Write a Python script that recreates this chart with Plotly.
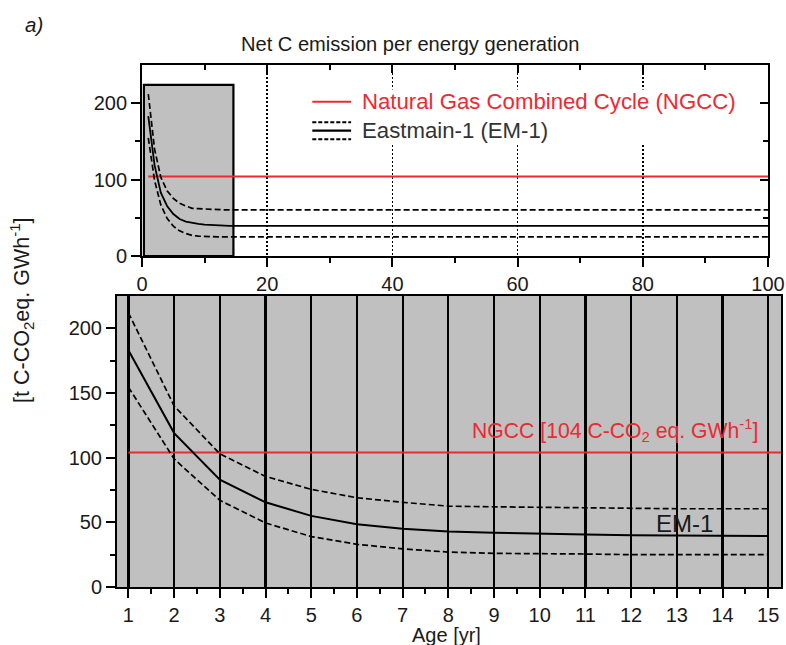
import plotly.graph_objects as go

# ---------------- data ----------------
age = [1, 2, 3, 4, 5, 6, 7, 8, 9, 10, 11, 12, 13, 14, 15]
em1_mean = [183, 119, 83, 65.5, 55, 48.5, 45, 43, 42, 41, 40.5, 40, 40, 39.5, 39.5]
em1_upper = [212, 140, 103, 85.5, 75.5, 69, 65.5, 62.5, 62, 61.5, 61, 60.5, 60.5, 60.5, 60.5]
em1_lower = [154.5, 99, 67, 49.5, 39, 33, 29.5, 27, 26, 26, 25.5, 25, 25, 25, 25]
# long-term horizon (top panel): plateau values held until year 100
horizon_age = 100
em1_mean_plateau = 39.5
em1_upper_plateau = 60.5
em1_lower_plateau = 25
ngcc_value = 104
ngcc_age = [1, 100]

top_xticks = [0, 20, 40, 60, 80, 100]
top_yticks = [0, 100, 200]
bottom_yticks = [0, 50, 100, 150, 200]

# ---------------- style ----------------
FONT = "Liberation Sans"
RED = "#ec2a32"
GRAY = "#c0c0c0"
DASH = "6px,3px"

fig = go.Figure()

age_long = age + [horizon_age]
mean_long = em1_mean + [em1_mean_plateau]
upper_long = em1_upper + [em1_upper_plateau]
lower_long = em1_lower + [em1_lower_plateau]

# top panel traces
fig.add_trace(go.Scatter(x=ngcc_age, y=[ngcc_value] * 2, mode="lines",
                         line=dict(color=RED, width=2), xaxis="x", yaxis="y"))
fig.add_trace(go.Scatter(x=age_long, y=upper_long, mode="lines",
                         line=dict(color="black", width=1.7, dash=DASH), xaxis="x", yaxis="y"))
fig.add_trace(go.Scatter(x=age_long, y=lower_long, mode="lines",
                         line=dict(color="black", width=1.7, dash=DASH), xaxis="x", yaxis="y"))
fig.add_trace(go.Scatter(x=age_long, y=mean_long, mode="lines",
                         line=dict(color="black", width=1.8), xaxis="x", yaxis="y"))
# dummy traces for overlay (tick-only) axes
fig.add_trace(go.Scatter(x=[], y=[], xaxis="x3", yaxis="y", hoverinfo="skip"))
fig.add_trace(go.Scatter(x=[], y=[], xaxis="x", yaxis="y3", hoverinfo="skip"))

# bottom panel traces
fig.add_trace(go.Scatter(x=ngcc_age, y=[ngcc_value] * 2, mode="lines",
                         line=dict(color=RED, width=2.2), xaxis="x2", yaxis="y2"))
fig.add_trace(go.Scatter(x=age, y=em1_upper, mode="lines",
                         line=dict(color="black", width=1.7, dash=DASH), xaxis="x2", yaxis="y2"))
fig.add_trace(go.Scatter(x=age, y=em1_lower, mode="lines",
                         line=dict(color="black", width=1.7, dash=DASH), xaxis="x2", yaxis="y2"))
fig.add_trace(go.Scatter(x=age, y=em1_mean, mode="lines",
                         line=dict(color="black", width=2), xaxis="x2", yaxis="y2"))

tickfont = dict(family=FONT, size=20, color="#1a1a1a")
axis_common = dict(linecolor="black", linewidth=2, tickcolor="black", tickwidth=2,
                   zeroline=False, tickfont=tickfont, automargin=False)

fig.update_layout(
    width=786, height=645,
    margin=dict(l=117, r=5, t=65, b=58, autoexpand=False),
    plot_bgcolor="white", paper_bgcolor="white",
    showlegend=False,
    xaxis=dict(domain=[0.0377, 0.9804], anchor="y", range=[0, 100],
               tickvals=top_xticks, ticks="outside", ticklen=9, mirror=True,
               showgrid=True, gridcolor="black", gridwidth=1.6, griddash="2px,2px",
               minor=dict(tickvals=[10, 30, 50, 70, 90], ticks="outside", ticklen=5,
                          tickwidth=2, tickcolor="black", showgrid=False),
               **axis_common),
    yaxis=dict(domain=[0.634, 1.0], anchor="x", range=[0, 250],
               tickvals=top_yticks, ticks="outside", ticklen=9, mirror=True,
               showgrid=False,
               minor=dict(tickvals=[50, 150], ticks="outside", ticklen=5,
                          tickwidth=2, tickcolor="black", showgrid=False),
               **axis_common),
    xaxis3=dict(overlaying="x", anchor="y", side="top", range=[0, 100],
                tickvals=[20, 40, 60, 80], ticks="inside", ticklen=8,
                tickwidth=2, tickcolor="black", automargin=False,
                minor=dict(tickvals=[10, 30, 50, 70, 90], ticks="inside", ticklen=5,
                           tickwidth=2, tickcolor="black", showgrid=False),
                showticklabels=False, showgrid=False, showline=False, zeroline=False),
    yaxis3=dict(overlaying="y", anchor="x", side="right", range=[0, 250],
                tickvals=[100, 200], ticks="inside", ticklen=8,
                tickwidth=2, tickcolor="black", automargin=False,
                minor=dict(tickvals=[50, 150], ticks="inside", ticklen=5,
                           tickwidth=2, tickcolor="black", showgrid=False),
                showticklabels=False, showgrid=False, showline=False, zeroline=False),
    xaxis2=dict(domain=[0, 1], anchor="y2", range=[0.75, 15.28],
                tickvals=age, ticks="outside", ticklen=9, mirror=True,
                showgrid=True, gridcolor="black", gridwidth=2.2,
                minor=dict(tickvals=[a + 0.5 for a in age[:-1]], ticks="outside",
                           ticklen=5, tickwidth=2, tickcolor="black", showgrid=False),
                **axis_common),
    yaxis2=dict(domain=[0, 0.5575], anchor="x2", range=[0, 225],
                tickvals=bottom_yticks, ticks="outside", ticklen=9, mirror=True,
                showgrid=False,
                minor=dict(tickvals=[25, 75, 125, 175], ticks="outside", ticklen=5,
                           tickwidth=2, tickcolor="black", showgrid=False),
                **axis_common),
)

shapes = [
    # bottom panel grey background
    dict(type="rect", xref="x2 domain", yref="y2 domain", x0=0, x1=1, y0=0, y1=1,
         fillcolor=GRAY, line=dict(width=0), layer="below"),
    # zoom box in top panel
    dict(type="rect", xref="x", yref="y", x0=0.3, x1=14.6, y0=0, y1=224,
         fillcolor=GRAY, line=dict(color="black", width=2.2), layer="below"),
    # legend background
    dict(type="rect", xref="x", yref="y", x0=26, x1=96, y0=148, y1=218,
         fillcolor="white", line=dict(width=0), layer="between"),
    # legend samples
    dict(type="line", xref="x", yref="y", x0=27.2, x1=33.4, y0=202, y1=202,
         line=dict(color=RED, width=2), layer="above"),
    dict(type="line", xref="x", yref="y", x0=27.2, x1=33.4, y0=175, y1=175,
         line=dict(color="black", width=2, dash="4px,2px"), layer="above"),
    dict(type="line", xref="x", yref="y", x0=27.2, x1=33.4, y0=164, y1=164,
         line=dict(color="black", width=2.2), layer="above"),
    dict(type="line", xref="x", yref="y", x0=27.2, x1=33.4, y0=153, y1=153,
         line=dict(color="black", width=2, dash="4px,2px"), layer="above"),
]
fig.update_layout(shapes=shapes)

annotations = [
    dict(text="Net C emission per energy generation", xref="paper", yref="paper",
         x=0.441, y=1.040, xanchor="center", yanchor="middle", showarrow=False,
         font=dict(family=FONT, size=20.1, color="#1a1a1a")),
    dict(text="<i>a)</i>", xref="paper", yref="paper", x=-0.125, y=1.0785,
         xanchor="center", yanchor="middle", showarrow=False,
         font=dict(family=FONT, size=20.5, color="#1a1a1a")),
    dict(text="[t C-CO<sub>2</sub>eq. GWh<sup>-1</sup>]", xref="paper", yref="paper",
         x=-0.143, y=0.529, xanchor="center", yanchor="middle", textangle=-90,
         showarrow=False, font=dict(family=FONT, size=21.5, color="#1a1a1a")),
    dict(text="Age [yr]", xref="paper", yref="paper", x=0.4955, y=-0.092,
         xanchor="center", yanchor="middle", showarrow=False,
         font=dict(family=FONT, size=20, color="#1a1a1a")),
    dict(text="Natural Gas Combined Cycle (NGCC)", xref="x", yref="y", x=34.8, y=202,
         xanchor="left", yanchor="middle", showarrow=False,
         font=dict(family=FONT, size=22.2, color=RED)),
    dict(text="Eastmain-1 (EM-1)", xref="x", yref="y", x=34.8, y=164,
         xanchor="left", yanchor="middle", showarrow=False,
         font=dict(family=FONT, size=22.2, color="#333333")),
    dict(text="NGCC [104 C-CO<sub>2</sub> eq. GWh<sup>-1</sup>]", xref="x2", yref="y2",
         x=11.65, y=121, xanchor="center", yanchor="middle", showarrow=False,
         font=dict(family=FONT, size=21.2, color=RED)),
    dict(text="EM-1", xref="x2", yref="y2", x=13.16, y=49.2,
         xanchor="center", yanchor="middle", showarrow=False,
         font=dict(family=FONT, size=24, color="#1a1a1a")),
]
fig.update_layout(annotations=annotations)

# remove the default 8px page margin so the 786x645 figure fills the window exactly
fig.write_html(
    "out.html",
    config={"displayModeBar": False, "staticPlot": True},
    post_script="document.body.style.margin='0px';"
                "document.documentElement.style.overflow='hidden';",
)
